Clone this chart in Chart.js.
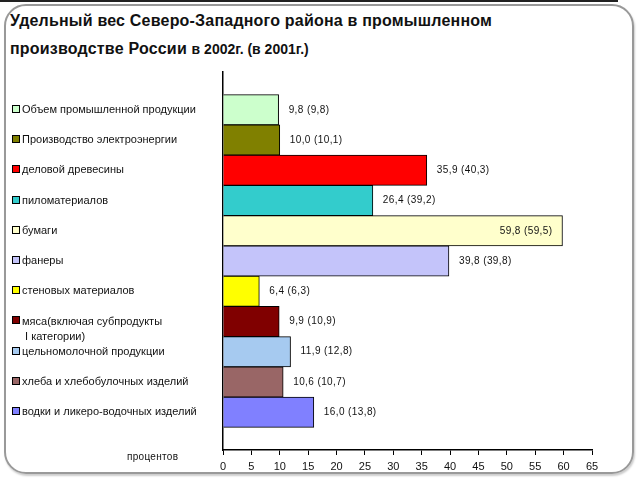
<!DOCTYPE html>
<html>
<head>
<meta charset="utf-8">
<script src="https://cdn.jsdelivr.net/npm/chart.js@4"></script>
<style>
  html, body { margin: 0; padding: 0; background: #fff; }
  #wrap { position: relative; width: 640px; height: 480px; overflow: hidden; font-family: Arial, "Liberation Sans", sans-serif; }
  #topline { position: absolute; left: 0; top: 0; width: 618px; height: 2px; background: #222; }
  #frame { position: absolute; left: 4px; top: 4px; width: 626px; height: 466px; border: 2px solid #999; border-radius: 22px; box-shadow: 1px 2px 2px #ccc; }
  #title { position: absolute; left: 10px; top: 7px; font-size: 16px; font-weight: bold; letter-spacing: 0.2px; line-height: 28px; color: #111; white-space: nowrap; }
  #title .yr { font-family: "Liberation Sans Narrow", "Arial Narrow", Arial, sans-serif; font-size: 14px; letter-spacing: 0; }
  canvas { position: absolute; left: 0; top: 0; }
</style>
</head>
<body>
<div id="wrap">
  <div id="topline"></div>
  <div id="frame"></div>
  <div id="title">Удельный вес Северо-Западного района в промышленном<br>производстве России <span class="yr">в 2002г. (в 2001г.)</span></div>
  <canvas id="myChart" width="640" height="480"></canvas>
</div>
<script>
const categories = [
  "Объем промышленной продукции",
  "Производство электроэнергии",
  "деловой древесины",
  "пиломатериалов",
  "бумаги",
  "фанеры",
  "стеновых материалов",
  ["мяса(включая субпродукты", " I категории)"],
  "цельномолочной продукции",
  "хлеба и хлебобулочных изделий",
  "водки и ликеро-водочных изделий"
];
const share2002 = [9.8, 10.0, 35.9, 26.4, 59.8, 39.8, 6.4, 9.9, 11.9, 10.6, 16.0];
const share2001 = [9.8, 10.1, 40.3, 39.2, 59.5, 39.8, 6.3, 10.9, 12.8, 10.7, 13.8];
const barColors = ["#CCFFCC", "#808000", "#FF0000", "#33CCCC", "#FFFFCC", "#C4C4FA",
  "#FFFF00", "#800000", "#A6CAF0", "#996666", "#8080FF"];
const xTicks = [0, 5, 10, 15, 20, 25, 30, 35, 40, 45, 50, 55, 60, 65];

const firstLine = (c) => (Array.isArray(c) ? c[0] : c);
const fmt = (v) => v.toFixed(1).replace(".", ",");

const extras = {
  id: "extras",
  afterDatasetsDraw(chart) {
    const ctx = chart.ctx;
    const meta = chart.getDatasetMeta(0);
    const area = chart.chartArea;
    const ys = chart.scales.y;
    ctx.save();
    ctx.font = "10px Arial";
    ctx.letterSpacing = "0.4px";
    ctx.fillStyle = "#111";
    ctx.textBaseline = "middle";
    meta.data.forEach((bar, i) => {
      const text = fmt(share2002[i]) + " (" + fmt(share2001[i]) + ")";
      const w = ctx.measureText(text).width;
      if (bar.x + 10 + w > area.right) {
        ctx.textAlign = "right";
        ctx.fillText(text, bar.x - 10, bar.y);
      } else {
        ctx.textAlign = "left";
        ctx.fillText(text, bar.x + 10, bar.y);
      }
    });

    // continuation lines of long category labels, half a slot lower
    ctx.font = "11px Arial";
    ctx.letterSpacing = "0px";
    ctx.textAlign = "left";
    categories.forEach((c, i) => {
      if (!Array.isArray(c)) return;
      c.slice(1).forEach((l, k) => {
        ctx.fillText(l, ys.left, ys.getPixelForValue(i + (k + 1) * 0.5));
      });
    });

    // legend squares beside the category labels
    categories.forEach((c, i) => {
      const py = Math.round(ys.getPixelForValue(i));
      ctx.fillStyle = barColors[i];
      ctx.fillRect(12.5, py - 4.5, 7, 7);
      ctx.strokeStyle = "#000";
      ctx.lineWidth = 1;
      ctx.strokeRect(12.5, py - 4.5, 7, 7);
    });

    // axis unit
    ctx.font = "10px Arial";
    ctx.fillStyle = "#111";
    ctx.letterSpacing = "0.3px";
    ctx.fillText("процентов", 127, area.bottom + 7);
    ctx.restore();
  }
};

new Chart(document.getElementById("myChart"), {
  type: "bar",
  data: {
    datasets: [{
      data: share2002.map((v, i) => ({ x: v, y: i })),
      backgroundColor: barColors,
      borderColor: "#000",
      borderWidth: 1,
      barPercentage: 1,
      categoryPercentage: 1
    }]
  },
  options: {
    indexAxis: "y",
    responsive: false,
    animation: false,
    layout: { padding: { left: 22, top: 72, right: 48, bottom: 8 } },
    plugins: { legend: { display: false }, tooltip: { enabled: false } },
    scales: {
      x: {
        type: "linear",
        min: 0,
        max: 65,
        afterBuildTicks: (s) => { s.ticks = xTicks.map((v) => ({ value: v })); },
        grid: { drawOnChartArea: false, drawTicks: true, tickLength: 5, color: "#000" },
        border: { display: true, color: "#000", width: 1.5 },
        ticks: { color: "#111", font: { family: "Arial", size: 11 }, padding: 5, maxRotation: 0 },
        afterFit: (s) => { s.height = 22; }
      },
      y: {
        type: "linear",
        reverse: true,
        offset: false,
        min: -1.25,
        max: 11.25,
        afterBuildTicks: (s) => { s.ticks = categories.map((c, i) => ({ value: i })); },
        grid: { display: false, drawTicks: false, offset: false },
        border: { display: true, color: "#000", width: 1.5 },
        ticks: {
          color: "#111",
          crossAlign: "far",
          autoSkip: false,
          font: { family: "Arial", size: 11 },
          callback: (v, idx) => firstLine(categories[idx])
        },
        afterFit: (s) => { s.width = 201; }
      }
    }
  },
  plugins: [extras]
});
</script>
</body>
</html>
